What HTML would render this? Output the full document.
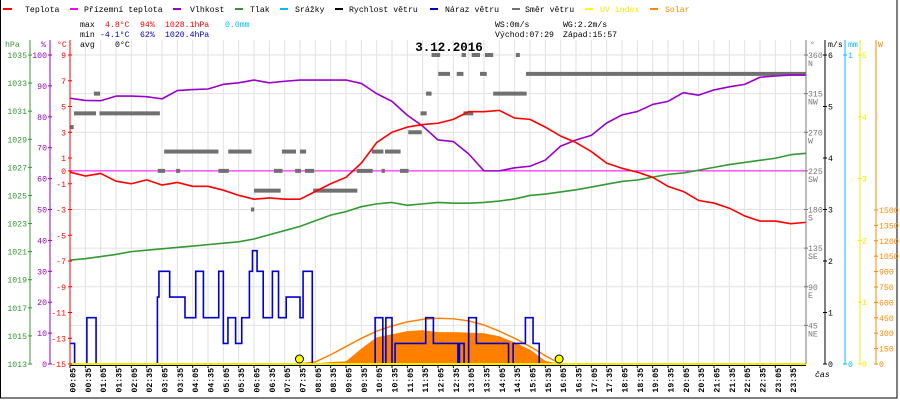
<!DOCTYPE html>
<html><head><meta charset="utf-8"><style>
html,body{margin:0;padding:0;background:#fff;}
svg{display:block;font-family:"Liberation Mono",monospace;}
</style></head><body>
<svg id="chart" width="900" height="400" viewBox="0 0 900 400" xmlns="http://www.w3.org/2000/svg">
<rect x="0.5" y="-1" width="896.5" height="399" fill="#fff" stroke="#000" stroke-width="1"/>
<g id="grid"></g>
<g id="solar"></g>
<g id="dir"></g>
<g id="lines"></g>
<g id="axes"></g>
<g id="legend" font-size="8.2">
 <g><line x1="3" y1="9" x2="12" y2="9" stroke="#f00" stroke-width="2"/><text x="25" y="12">Teplota</text></g>
 <g><line x1="70" y1="9" x2="78" y2="9" stroke="#f0f" stroke-width="2"/><text x="84" y="12">Přízemní teplota</text></g>
 <g><line x1="173" y1="9" x2="181" y2="9" stroke="#90c" stroke-width="2"/><text x="190" y="12">Vlhkost</text></g>
 <g><line x1="235" y1="9" x2="243" y2="9" stroke="#393" stroke-width="2"/><text x="250" y="12">Tlak</text></g>
 <g><line x1="280" y1="9" x2="288" y2="9" stroke="#0bf" stroke-width="2"/><text x="295" y="12">Srážky</text></g>
 <g><line x1="335" y1="9" x2="343" y2="9" stroke="#000" stroke-width="2"/><text x="349" y="12">Rychlost větru</text></g>
 <g><line x1="430" y1="9" x2="438" y2="9" stroke="#00c" stroke-width="2"/><text x="445" y="12">Náraz větru</text></g>
 <g><line x1="512" y1="9" x2="520" y2="9" stroke="#707070" stroke-width="2"/><text x="525" y="12">Směr větru</text></g>
 <g><line x1="585" y1="9" x2="593" y2="9" stroke="#ff0" stroke-width="2"/><text x="600" y="12" fill="#ee0">UV index</text></g>
 <g><line x1="650" y1="9" x2="658" y2="9" stroke="#f80" stroke-width="2"/><text x="665" y="12" fill="#f80">Solar</text></g>
</g>
<g id="stats" font-size="8.2">
 <text x="80" y="27">max</text><text x="105" y="27" fill="#f00">4.8°C</text><text x="140" y="27" fill="#f00">94%</text><text x="165" y="27" fill="#f00">1028.1hPa</text><text x="225" y="27" fill="#0bf">0.0mm</text>
 <text x="80" y="37">min</text><text x="100" y="37" fill="#00c">-4.1°C</text><text x="140" y="37" fill="#00c">62%</text><text x="165" y="37" fill="#00c">1020.4hPa</text>
 <text x="80" y="47">avg</text><text x="115" y="47">0°C</text>
 <text x="495" y="27">WS:0m/s</text><text x="563" y="27">WG:2.2m/s</text>
 <text x="495" y="37">Východ:07:29</text><text x="563" y="37">Západ:15:57</text>
</g>
<text x="449" y="51" text-anchor="middle" font-size="12.5" font-weight="bold">3.12.2016</text>
<text x="815" y="377" font-size="8.2" font-style="italic">čas</text>
</svg>
<script>
// ---- data (half-hour grid, 0..24 h) ----
const hours = [0,0.5,1,1.5,2,2.5,3,3.5,4,4.5,5,5.5,6,6.5,7,7.5,8,8.5,9,9.5,10,10.5,11,11.5,12,12.5,13,13.5,14,14.5,15,15.5,16,16.5,17,17.5,18,18.5,19,19.5,20,20.5,21,21.5,22,22.5,23,23.5,24];
const temperature = [-0.1,-0.4,-0.2,-0.8,-1.0,-0.7,-1.1,-0.9,-1.2,-1.2,-1.5,-1.9,-2.2,-2.1,-2.2,-2.2,-1.6,-1.0,-0.5,0.6,2.2,3.0,3.4,3.6,3.7,4.0,4.6,4.6,4.7,4.1,4.0,3.4,2.7,2.2,1.5,0.6,0.2,-0.1,-0.5,-1.2,-1.6,-2.3,-2.5,-2.9,-3.5,-3.9,-3.9,-4.1,-4.0];
const humidity = [86,85.3,85.2,86.7,86.7,86.5,85.8,88.5,88.8,89,90.5,91,91.9,91,91.5,91.9,91.9,91.9,91.9,90.8,87.5,85,80.5,77,72.5,72,68,62.5,62.5,63.5,64,66,70.5,72.5,74,78,80.6,81.7,84,85,87.8,87,88.7,89.7,90.5,92.8,93.2,93.5,93.5];
const pressure = [1020.4,1020.5,1020.65,1020.8,1021.0,1021.1,1021.2,1021.3,1021.4,1021.5,1021.6,1021.7,1021.9,1022.2,1022.5,1022.8,1023.2,1023.6,1023.85,1024.2,1024.4,1024.5,1024.3,1024.4,1024.5,1024.45,1024.45,1024.5,1024.6,1024.75,1025.0,1025.1,1025.25,1025.4,1025.6,1025.8,1026.0,1026.1,1026.3,1026.5,1026.6,1026.8,1027.0,1027.2,1027.35,1027.5,1027.65,1027.9,1028.0];
const solarTheory = [0,0,0,0,0,0,0,0,0,0,0,0,0,0,0,0,20,90,170,250,320,370,410,435,445,440,420,380,320,250,170,80,0,0,0,0,0,0,0,0,0,0,0,0,0,0,0,0,0];
const solarMeasured = [0,0,0,0,0,0,0,0,0,0,0,0,0,0,0,0,5,20,25,150,260,290,320,330,310,310,305,300,270,210,140,30,0,0,0,0,0,0,0,0,0,0,0,0,0,0,0,0,0];
// wind gust steps: change times (h) and values (m/s)
const gustTimes = [0,0.15,0.55,0.85,2.85,2.9,3.25,3.75,4.1,4.35,4.85,5.0,5.15,5.4,5.6,5.85,5.95,6.1,6.3,6.6,6.8,7.05,7.5,7.6,7.9,9.95,10.2,10.3,10.5,10.6,11.6,11.85,12.65,12.7,12.85,13.0,13.25,14.3,14.45,14.85,15.1,15.3,24];
const gustValues = [0.4,0,0.9,0,1.3,1.8,1.3,0.9,1.8,0.9,1.8,0.4,0.9,0.4,0.9,1.8,2.2,1.8,0.9,1.8,0.9,1.3,0.9,1.8,0,0.9,0,0.9,0,0.4,0.9,0.4,0,0.4,0,0.9,0.4,0,0.4,0.9,0.4,0,0];
// wind direction segments
const dirStart = [0,0.13,0.78,0.96,2.86,3.07,3.46,4.84,5.16,5.9,6.0,6.65,6.91,7.34,7.5,7.66,7.93,9.35,9.84,10.16,10.27,10.76,11.03,11.43,11.61,11.79,12.01,12.61,12.77,12.83,13.1,13.37,13.53,13.8,14.54,14.87];
const dirEnd   = [0.12,0.85,0.98,2.93,3.1,4.84,3.59,5.18,5.92,6.01,6.87,6.93,7.37,7.53,7.7,7.96,9.37,9.87,10.22,10.27,10.78,11.04,11.47,11.63,11.79,12.07,12.39,12.83,12.91,13.15,13.37,13.59,13.8,14.89,14.67,24];
const dirDeg   = [276,292,315,292,225,247.5,225,225,247.5,180,202,225,247.5,225,247.5,225,202,225,247.5,225,247.5,225,270,292,315,360,338,338,360,292,360,338,360,315,360,338];
const sunEvents = [7.483, 15.95];
const hpaTicks = [1035,1033,1031,1029,1027,1025,1023,1021,1019,1017,1015,1013];
const pctTicks = [100,90,80,70,60,50,40,30,20,10,0];
const tempTicks = [9,7,5,3,1,0,-1,-3,-5,-7,-9,-11,-13,-15];
const dirTicks = [360,315,270,225,180,135,90,45];
const dirNames = ["N","NW","W","SW","S","SE","E","NE"];
const msTicks = [0,1,2,3,4,5,6];
const uvTicks = [0,1,2,3,4,5];
const wTicks = [0,150,300,450,600,750,900,1050,1200,1350,1500];

// ---- scales ----
const X0=70, X1=806, YT=55, YB=364;
const x = h => X0 + h*(X1-X0)/24;
const yT = t => YB - (t+15)*(YB-YT)/24;
const yP = p => YB - p*(YB-YT)/100;
const yH = hp => YB - (hp-1013)*(YB-YT)/22;
const yD = d => YB - d*(YB-YT)/360;
const yW = v => YB - v*(YB-YT)/6;
const yUV = u => YB - u*(YB-YT)/5;
const ySol = w => YB - w*0.1027;

const NS="http://www.w3.org/2000/svg";
function mk(tag, parent, attrs){const e=document.createElementNS(NS,tag);for(const k in attrs)e.setAttribute(k,attrs[k]);parent.appendChild(e);return e;}
const G=id=>document.getElementById(id);

// grid
const grid=G('grid');
for(let i=1;i<48;i++){const l=mk('line',grid,{x1:x(i*0.5),x2:x(i*0.5),y1:YT-15,y2:YB,stroke:'#e2e2e2','stroke-width':1});

}
dirTicks.forEach(d=>{const l=mk('line',grid,{x1:X0,x2:X1,y1:yD(d),y2:yD(d),stroke:'#e2e2e2','stroke-width':1});

});
const zl=mk('line',grid,{x1:X0,x2:X1,y1:yT(0),y2:yT(0),stroke:'#f0f','stroke-width':1});



// solar
const sol=G('solar');
let d='M'+x(hours[0])+','+YB;
hours.forEach((h,i)=>{d+=' L'+x(h)+','+ySol(solarMeasured[i]);});
d+=' L'+x(24)+','+YB+' Z';
const sa=mk('path',sol,{d:d,fill:'#ff8000'});


let pts=[];hours.forEach((h,i)=>{if(h>=7.5&&h<=16)pts.push(x(h)+','+ySol(solarTheory[i]));});
const st=mk('polyline',sol,{points:pts.join(' '),fill:'none',stroke:'#ff8000','stroke-width':1.5});



// direction
const dg=G('dir');
dirStart.forEach((s,i)=>{const r=mk('rect',dg,{x:x(s),y:yD(dirDeg[i])-2,width:Math.max(2,x(dirEnd[i])-x(s)),height:4,fill:'#707070'});

});

// lines
const lg=G('lines');
function series(vals,fy,color,name){const p=hours.map((h,i)=>x(h)+','+fy(vals[i])).join(' ');
const e=mk('polyline',lg,{points:p,fill:'none',stroke:color,'stroke-width':1.6,'stroke-linejoin':'round'});

}
series(pressure,yH,'#339933','pressure-line');
series(humidity,yP,'#9900cc','humidity-line');
series(temperature,yT,'#ff0000','temperature-line');
let gp=[];gustTimes.forEach((t,i)=>{if(i>0)gp.push(x(t)+','+yW(gustValues[i-1]));gp.push(x(t)+','+yW(gustValues[i]));});
const gl=mk('polyline',lg,{points:gp.join(' '),fill:'none',stroke:'#0000cc','stroke-width':1.6});


const uvl=mk('line',lg,{x1:X0,x2:X1,y1:YB,y2:YB,stroke:'#ee0','stroke-width':2});


sunEvents.forEach(h=>{const c=mk('circle',lg,{cx:x(h),cy:YB-5,r:4,fill:'#ff0',stroke:'#000','stroke-width':1});

});

// axes
const ax=G('axes');ax.setAttribute('font-size','8.2');
function vaxis(xp,color,name,ticks,fy,labX,anchor,fmt,tickDir){
 const l=mk('line',ax,{x1:xp,x2:xp,y1:YT-15,y2:YB,stroke:color,'stroke-width':1});
 
 
 ticks.forEach(t=>{const yy=fy(t);mk('line',ax,{x1:xp-2,x2:xp+2,y1:yy,y2:yy,stroke:color});
  const tx=mk('text',ax,{x:labX,y:yy+3,fill:color,'text-anchor':anchor});tx.textContent=fmt?fmt(t):t;
  
  });
}
vaxis(30,'#339933','hpa-axis',hpaTicks,yH,27,'end');
vaxis(50,'#9900cc','humidity-axis',pctTicks,yP,47,'end');
vaxis(70,'#ff0000','temperature-axis',tempTicks,yT,66,'end');
vaxis(806,'#777','direction-axis',dirTicks,yD,808,'start');
dirTicks.forEach((t,i)=>{const tx=mk('text',ax,{x:808,y:yD(t)+11,fill:'#777'});tx.textContent=dirNames[i];

});
vaxis(825,'#000','wind-speed-axis',msTicks,yW,828,'start');
vaxis(845,'#0bf','rain-axis',[0,1],v=>YB-v*(YB-YT),848,'start');
vaxis(860,'#ee0','uv-axis',uvTicks,yUV,862,'start');
vaxis(876,'#f80','solar-axis',wTicks,ySol,879,'start');
[[5,'hPa','#339933'],[41,'%','#9900cc'],[57,'°C','#f00'],[810,'°','#777'],[828,'m/s','#000'],[848,'mm','#0bf'],[878,'W','#f80']].forEach(a=>{
 const t=mk('text',ax,{x:a[0],y:47,fill:a[2]});t.textContent=a[1];
 
 });
const bl=mk('line',ax,{x1:X0,x2:X1,y1:YB+1.5,y2:YB+1.5,stroke:'#000','stroke-width':1});


for(let i=0;i<48;i++){const h=i*0.5;const hh=Math.floor(h),mm=(h%1)?35:5;
 const lab=String(hh).padStart(2,'0')+':'+String(mm).padStart(2,'0');
 const xp=x(h)+2.5;
 mk('line',ax,{x1:xp-2.5,x2:xp-2.5,y1:YB+1,y2:YB+4,stroke:'#000'});
 const t=mk('text',ax,{x:0,y:0,'font-weight':'bold','text-anchor':'end',transform:`translate(${xp+3},368) rotate(-90)`});
 t.textContent=lab;
 
 }
</script>
</body></html>
